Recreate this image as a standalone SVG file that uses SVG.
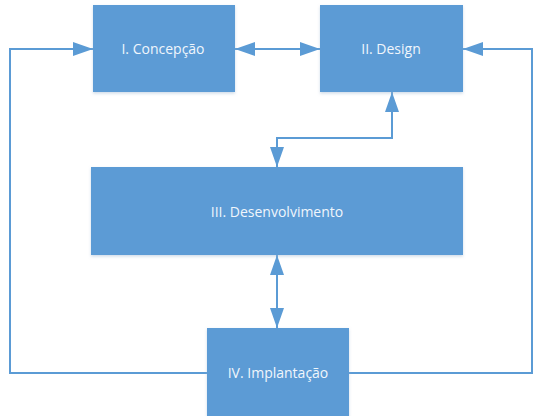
<svg xmlns="http://www.w3.org/2000/svg" width="534" height="416" viewBox="0 0 534 416">
<defs>
<style>
.box{fill:#5B9BD5;}
.lbl{fill:#F0F6FC;font-family:"Open Sans","Noto Sans",sans-serif;font-size:14px;text-anchor:middle;dominant-baseline:central;}
.ln{fill:none;stroke:#5B9BD5;stroke-width:2;}
</style>
<marker id="ah" viewBox="0 0 20 14" refX="20" refY="7" markerWidth="20" markerHeight="14" markerUnits="userSpaceOnUse" orient="auto-start-reverse">
<path d="M0,0 L20,7 L0,14 Z" fill="#5B9BD5"/>
</marker>
<filter id="sh" x="-10%" y="-10%" width="120%" height="130%">
<feDropShadow dx="0" dy="1.5" stdDeviation="1.5" flood-color="#9fb8d0" flood-opacity="0.5"/>
</filter>
</defs>
<rect width="534" height="416" fill="#ffffff"/>
<g id="connectors">
<line class="ln" x1="235" y1="49" x2="320" y2="49" marker-start="url(#ah)" marker-end="url(#ah)"/>
<polyline class="ln" points="392,92 392,138 277,138 277,167" marker-start="url(#ah)" marker-end="url(#ah)"/>
<line class="ln" x1="277" y1="255" x2="277" y2="328" marker-start="url(#ah)" marker-end="url(#ah)"/>
<polyline class="ln" points="207,373 10,373 10,49 93,49" marker-end="url(#ah)"/>
<polyline class="ln" points="349,373 532,373 532,49 463,49" marker-end="url(#ah)"/>
</g>
<g id="n1"><rect class="box" x="93" y="5" width="142" height="87" filter="url(#sh)"/><text class="lbl" x="163" y="48">I. Concepção</text></g>
<g id="n2"><rect class="box" x="320" y="5" width="143" height="87" filter="url(#sh)"/><text class="lbl" x="391" y="48">II. Design</text></g>
<g id="n3"><rect class="box" x="91" y="167" width="372" height="88" filter="url(#sh)"/><text class="lbl" x="277" y="211">III. Desenvolvimento</text></g>
<g id="n4"><rect class="box" x="207" y="328" width="142" height="88" filter="url(#sh)"/><text class="lbl" x="278" y="372">IV. Implantação</text></g>
</svg>
